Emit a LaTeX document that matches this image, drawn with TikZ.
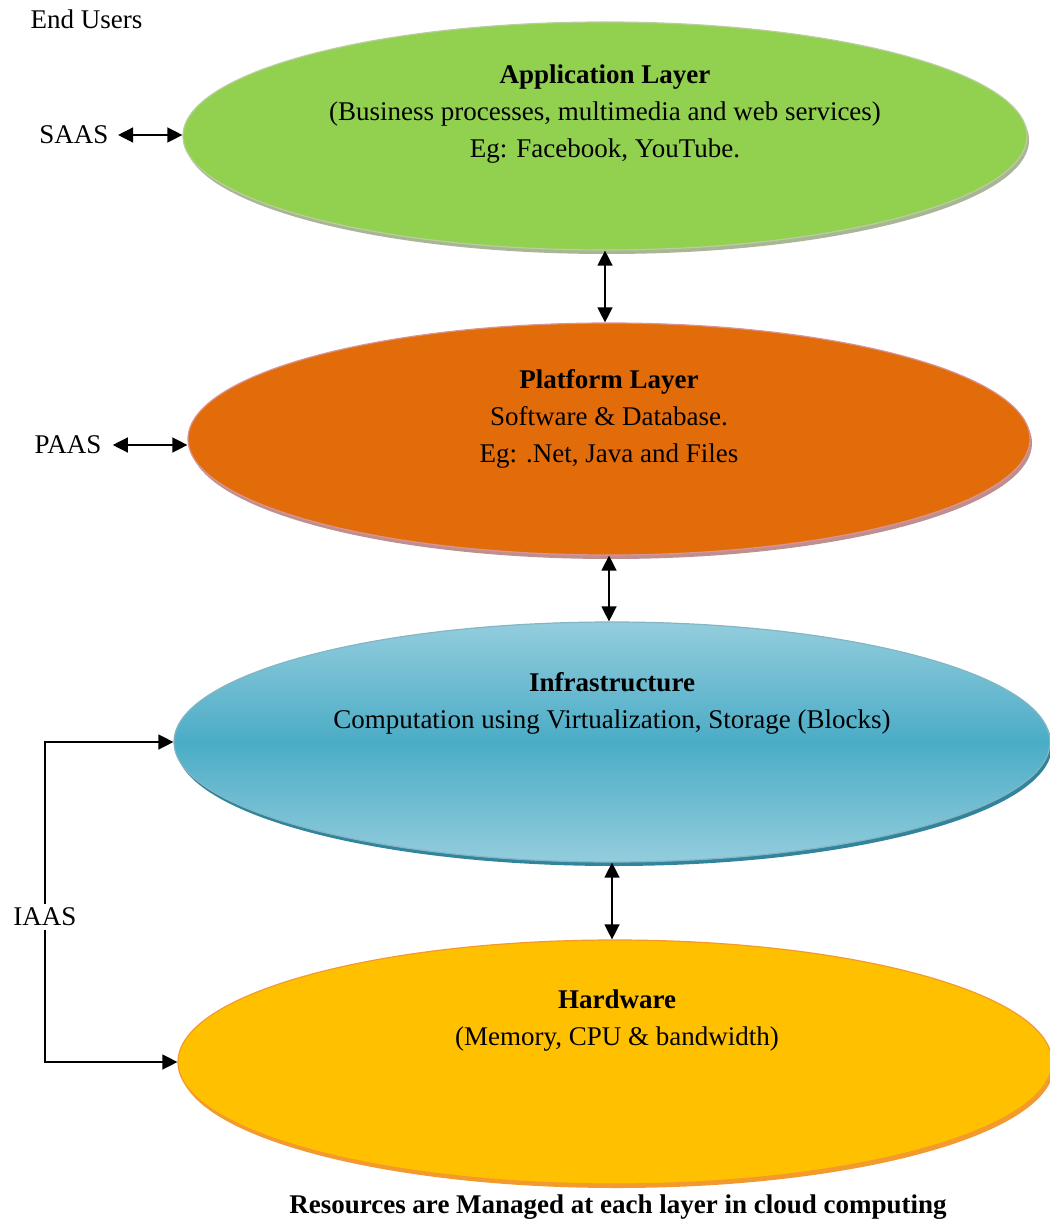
\documentclass[tikz,border=0pt]{standalone}
\usepackage{fontspec}
\setmainfont{Liberation Serif}
\usetikzlibrary{shapes.geometric,arrows.meta,shadows}

\definecolor{appgreen}{HTML}{92D050}
\definecolor{appedge}{HTML}{B9CD9E}
\definecolor{platorange}{HTML}{E36C0A}
\definecolor{platedge}{HTML}{D99594}
\definecolor{infrablue}{HTML}{4BACC6}
\definecolor{infralight}{HTML}{93CDDD}
\definecolor{infraedge}{HTML}{31849B}
\definecolor{hwyellow}{HTML}{FFC000}
\definecolor{hwedge}{HTML}{F39A2E}

\begin{document}
\begin{tikzpicture}[x=1pt,y=-1pt,
    layer/.style={ellipse,inner sep=0pt,line width=1.2pt},
    txt/.style={align=center,font=\fontsize{27}{37}\selectfont},
    link/.style={{Triangle[length=15pt,width=15pt]}-{Triangle[length=15pt,width=15pt]},line width=1.4pt},
    feed/.style={-{Triangle[length=15pt,width=15pt]},line width=1.4pt}]
\useasboundingbox (0,0) rectangle (1049,1222);

% layers
\node[layer,draw=appedge,fill=appgreen,minimum width=844pt,minimum height=228pt,
      drop shadow={shadow xshift=2pt,shadow yshift=-4pt,fill=appedge!70!gray,opacity=1}] (app) at (605,136) {};
\node[layer,draw=platedge,fill=platorange,minimum width=842pt,minimum height=232pt,
      drop shadow={shadow xshift=2pt,shadow yshift=-4pt,fill=platedge!70!gray,opacity=1}] (plat) at (609,439) {};
\node[layer,draw=infraedge!60,top color=infralight,bottom color=infralight,middle color=infrablue,
      minimum width=876pt,minimum height=240pt,
      drop shadow={shadow xshift=2pt,shadow yshift=-4pt,fill=infraedge,opacity=1}] (infra) at (612,742) {};
\node[layer,draw=hwedge,fill=hwyellow,minimum width=874pt,minimum height=244pt,
      drop shadow={shadow xshift=2pt,shadow yshift=-4pt,fill=hwedge,opacity=1}] (hw) at (615,1062) {};

% texts in the layers
\node[txt] (apptxt) at (605,114) {\textbf{Application Layer}\\(Business processes, multimedia and web services)\\Eg: Facebook, YouTube.};
\node[txt] (plattxt) at (609,419) {\textbf{Platform Layer}\\Software \& Database.\\Eg: .Net, Java and Files};
\node[txt] (infratxt) at (612,703) {\textbf{Infrastructure}\\Computation using Virtualization, Storage (Blocks)};
\node[txt] (hwtxt) at (617,1021) {\textbf{Hardware}\\(Memory, CPU \& bandwidth)};

% service labels
\node[txt,anchor=west] (users) at (27,19) {End Users};
\node[txt] (saas) at (74,135) {SAAS};
\node[txt] (paas) at (68,445) {PAAS};
\node[txt] (iaas) at (45,917) {IAAS};

% connectors
\draw[link,shorten <=6pt] (saas.east) -- (saas.east -| app.west);
\draw[link,shorten <=8pt] (paas.east) -- (paas.east -| plat.west);
\draw[link] (app.south) -- (app.south |- plat.north);
\draw[link] (plat.south) -- (plat.south |- infra.north);
\draw[link] (infra.south) -- (infra.south |- hw.north);
\draw[feed] (iaas.north) |- (infra.west);
\draw[feed] (iaas.south) |- (hw.west);

\node[txt,font=\fontsize{27}{30}\selectfont\bfseries] (caption) at (618,1207) {Resources are Managed at each layer in cloud computing};
\end{tikzpicture}
\end{document}
